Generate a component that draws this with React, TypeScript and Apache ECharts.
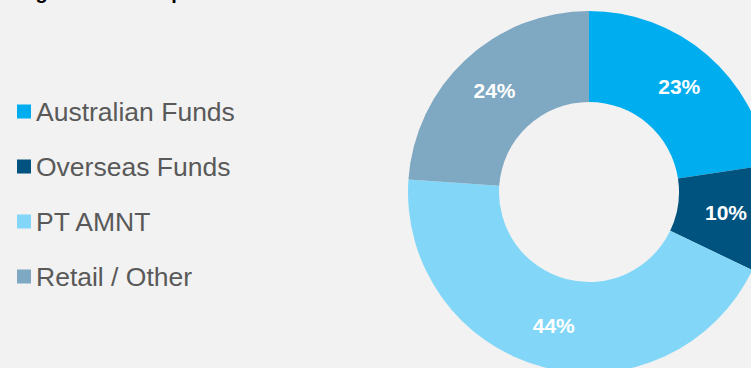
import React, { useEffect, useRef } from "react";
import * as echarts from "echarts";

const titleText = "Register at 30 September 2023 – holder mix";
const categories = ["Australian Funds", "Overseas Funds", "PT AMNT", "Retail / Other"];
const shares = [22.6, 9.5, 44.0, 23.9];
const colors = ["#00AEEF", "#00527F", "#82D7F8", "#7FA8C3"];

const FONT = '"Liberation Sans", Arial, Helvetica, sans-serif';

export default function App() {
  const ref = useRef<HTMLDivElement>(null);
  useEffect(() => {
    const chart = echarts.init(ref.current!, undefined, { renderer: "svg" });
    chart.setOption({
      animation: false,
      backgroundColor: "#F2F2F2",
      graphic: [
        {
          type: "text",
          x: 10,
          y: -8.5,
          style: {
            text: titleText,
            fill: "#000000",
            fontSize: 20,
            fontWeight: "bold",
            fontFamily: FONT,
            verticalAlign: "middle",
          },
        },
      ],
      legend: {
        orient: "vertical",
        left: 17,
        top: 97,
        padding: 0,
        icon: "rect",
        itemWidth: 14,
        itemHeight: 14,
        itemGap: 26,
        selectedMode: false,
        data: categories,
        textStyle: {
          color: "#595959",
          fontSize: 26.5,
          lineHeight: 26,
          fontFamily: FONT,
          padding: [3, 0, 0, 0],
        },
      },
      series: [
        {
          type: "pie",
          center: [589, 192],
          radius: [90, 181],
          startAngle: 90,
          clockwise: true,
          avoidLabelOverlap: false,
          silent: true,
          label: {
            show: true,
            position: "inside",
            formatter: (p: any) => Math.round(p.value) + "%",
            color: "#FFFFFF",
            fontSize: 21,
            fontWeight: "bold",
            fontFamily: FONT,
          },
          labelLine: { show: false },
          itemStyle: { borderWidth: 0 },
          data: categories.map((name, i) => ({
            name,
            value: shares[i],
            itemStyle: { color: colors[i] },
          })),
        },
      ],
    });
    return () => chart.dispose();
  }, []);
  return (
    <div
      ref={ref}
      style={{ position: "fixed", left: 0, top: 0, width: 751, height: 368 }}
    />
  );
}
